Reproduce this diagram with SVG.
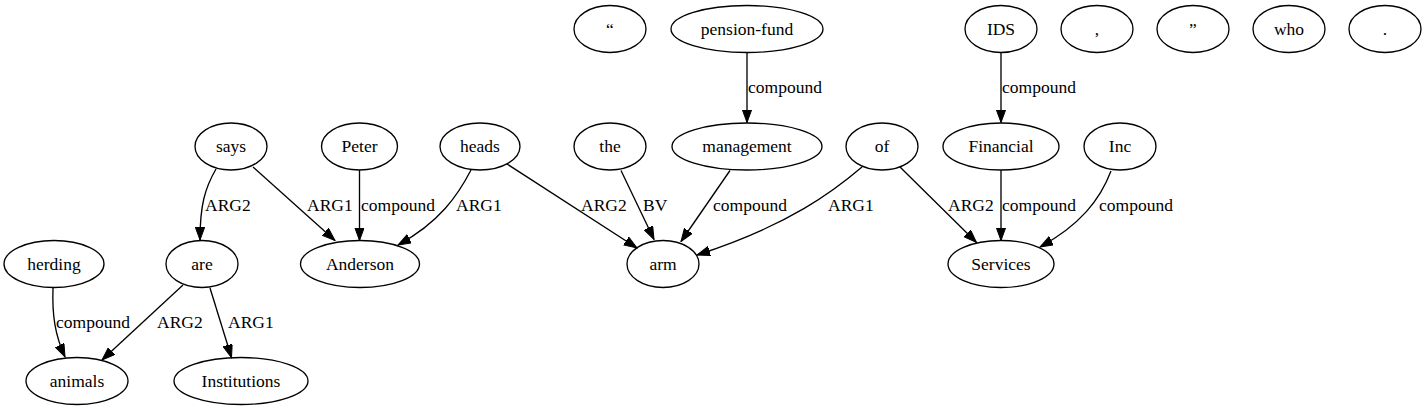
<svg xmlns="http://www.w3.org/2000/svg" width="1427" height="411" viewBox="0 0 1427 411">
<style>
.n ellipse{fill:none;stroke:#000;stroke-width:1.33}
.n text{text-anchor:middle}
.e path{fill:none;stroke:#000;stroke-width:1.33;marker-end:url(#ah)}
</style>
<defs>
<marker id="ah" markerUnits="userSpaceOnUse" markerWidth="14" markerHeight="10" refX="13" refY="4.75" orient="auto">
<path d="M0,0 L13,4.75 L0,9.5 z" fill="#000" stroke="#000" stroke-width="1"/>
</marker>
</defs>
<rect width="1427" height="411" fill="#fff"/>
<g font-family="Liberation Serif, DejaVu Serif, serif" font-size="17.5" fill="#000">
<g id="nodes">
<g id="n_ldquo" class="n"><ellipse cx="610" cy="29" rx="36" ry="23.5"/><text x="610" y="34.5">“</text></g>
<g id="n_pension" class="n"><ellipse cx="747" cy="29" rx="76" ry="23.5"/><text x="747" y="34.5">pension-fund</text></g>
<g id="n_IDS" class="n"><ellipse cx="1001" cy="29" rx="36" ry="23.5"/><text x="1001" y="34.5">IDS</text></g>
<g id="n_comma" class="n"><ellipse cx="1097" cy="29" rx="36" ry="23.5"/><text x="1097" y="34.5">,</text></g>
<g id="n_rdquo" class="n"><ellipse cx="1193" cy="29" rx="36" ry="23.5"/><text x="1193" y="34.5">”</text></g>
<g id="n_who" class="n"><ellipse cx="1289" cy="29" rx="36" ry="23.5"/><text x="1289" y="34.5">who</text></g>
<g id="n_period" class="n"><ellipse cx="1385" cy="29" rx="36" ry="23.5"/><text x="1385" y="34.5">.</text></g>

<g id="n_says" class="n"><ellipse cx="231" cy="146.5" rx="36" ry="23.5"/><text x="231" y="152">says</text></g>
<g id="n_Peter" class="n"><ellipse cx="359.5" cy="146.5" rx="38" ry="23.5"/><text x="359.5" y="152">Peter</text></g>
<g id="n_heads" class="n"><ellipse cx="480" cy="146.5" rx="40" ry="23.5"/><text x="480" y="152">heads</text></g>
<g id="n_the" class="n"><ellipse cx="610" cy="146.5" rx="36" ry="23.5"/><text x="610" y="152">the</text></g>
<g id="n_management" class="n"><ellipse cx="747" cy="146.5" rx="75" ry="23.5"/><text x="747" y="152">management</text></g>
<g id="n_of" class="n"><ellipse cx="882" cy="146.5" rx="36" ry="23.5"/><text x="882" y="152">of</text></g>
<g id="n_Financial" class="n"><ellipse cx="1001" cy="146.5" rx="58" ry="23.5"/><text x="1001" y="152">Financial</text></g>
<g id="n_Inc" class="n"><ellipse cx="1120" cy="146.5" rx="36" ry="23.5"/><text x="1120" y="152">Inc</text></g>

<g id="n_herding" class="n"><ellipse cx="54" cy="264" rx="50" ry="23.5"/><text x="54" y="269.5">herding</text></g>
<g id="n_are" class="n"><ellipse cx="202" cy="264" rx="36" ry="23.5"/><text x="202" y="269.5">are</text></g>
<g id="n_Anderson" class="n"><ellipse cx="360" cy="264" rx="59.5" ry="23.5"/><text x="360" y="269.5">Anderson</text></g>
<g id="n_arm" class="n"><ellipse cx="663" cy="264" rx="36" ry="23.5"/><text x="663" y="269.5">arm</text></g>
<g id="n_Services" class="n"><ellipse cx="1001" cy="264" rx="53" ry="23.5"/><text x="1001" y="269.5">Services</text></g>

<g id="n_animals" class="n"><ellipse cx="77" cy="381" rx="51" ry="23.5"/><text x="77" y="386.5">animals</text></g>
<g id="n_Institutions" class="n"><ellipse cx="241" cy="381" rx="67" ry="23.5"/><text x="241" y="386.5">Institutions</text></g>
</g>
<g id="edges" class="e">
<path d="M747,52.5 L747,122.5"/><text x="748" y="93">compound</text>
<path d="M1001,52.5 L1001,122.5"/><text x="1002" y="93">compound</text>

<path d="M216,169 C205,188 200,205 200,240"/><text x="205" y="210.5">ARG2</text>
<path d="M253,167 L335,240.5"/><text x="307" y="210.5">ARG1</text>
<path d="M359.5,170 L359.5,240.5"/><text x="361" y="210.5">compound</text>
<path d="M471,170 C458,195 440,222 398,245"/><text x="456" y="210.5">ARG1</text>
<path d="M507,164 L637,248"/><text x="581" y="210.5">ARG2</text>
<path d="M621,170.5 L654,239.5"/><text x="643" y="210.5">BV</text>
<path d="M730,170.5 L681,241.5"/><text x="713" y="210.5">compound</text>
<path d="M862,167 C835,190 790,225 697,255"/><text x="828" y="210.5">ARG1</text>
<path d="M900,167 L976.5,242.5"/><text x="948" y="210.5">ARG2</text>
<path d="M1001,170 L1001,240.5"/><text x="1002" y="210.5">compound</text>
<path d="M1111,171 C1100,200 1080,225 1040,247"/><text x="1099" y="210.5">compound</text>

<path d="M53,288 C52,315 55,335 65,357"/><text x="56" y="328">compound</text>
<path d="M183,285 L102,360"/><text x="157" y="328">ARG2</text>
<path d="M210,288 L231.5,357.5"/><text x="228" y="328">ARG1</text>
</g>
</g>
</svg>
